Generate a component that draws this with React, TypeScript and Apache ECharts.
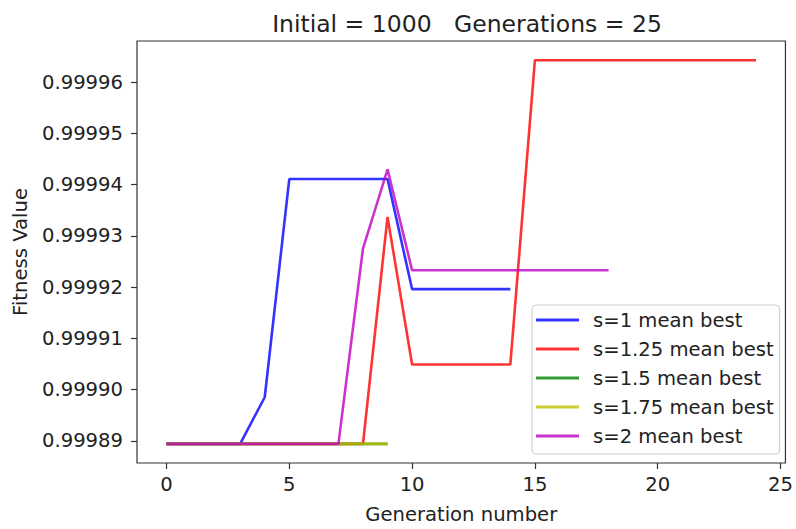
import React, { useEffect, useRef } from "react";
import * as echarts from "echarts";

const generations = [0, 1, 2, 3, 4, 5, 6, 7, 8, 9, 10, 11, 12, 13, 14, 15, 16, 17, 18, 19, 20, 21, 22, 23, 24];
const xTicks = [0, 5, 10, 15, 20, 25];
const yTicks = [0.99989, 0.9999, 0.99991, 0.99992, 0.99993, 0.99994, 0.99995, 0.99996];

const s1 = [0.9998894, 0.9998894, 0.9998894, 0.9998894, 0.9998985, 0.9999411, 0.9999411, 0.9999411, 0.9999411, 0.9999411, 0.9999196, 0.9999196, 0.9999196, 0.9999196, 0.9999196];
const s125 = [0.9998894, 0.9998894, 0.9998894, 0.9998894, 0.9998894, 0.9998894, 0.9998894, 0.9998894, 0.9998894, 0.9999337, 0.9999049, 0.9999049, 0.9999049, 0.9999049, 0.9999049, 0.9999643, 0.9999643, 0.9999643, 0.9999643, 0.9999643, 0.9999643, 0.9999643, 0.9999643, 0.9999643, 0.9999643];
const s15 = [0.9998894, 0.9998894, 0.9998894, 0.9998894, 0.9998894, 0.9998894, 0.9998894, 0.9998894, 0.9998894, 0.9998894];
const s175 = [0.9998894, 0.9998894, 0.9998894, 0.9998894, 0.9998894, 0.9998894, 0.9998894, 0.9998894, 0.9998894, 0.9998894];
const s2 = [0.9998894, 0.9998894, 0.9998894, 0.9998894, 0.9998894, 0.9998894, 0.9998894, 0.9998894, 0.9999275, 0.999943, 0.9999233, 0.9999233, 0.9999233, 0.9999233, 0.9999233, 0.9999233, 0.9999233, 0.9999233, 0.9999233];

const seriesNames = ["s=1 mean best", "s=1.25 mean best", "s=1.5 mean best", "s=1.75 mean best", "s=2 mean best"];
const seriesColors = ["#0000ff", "#ff0000", "#008000", "#bfbf00", "#bf00bf"];
const seriesValues = [s1, s125, s15, s175, s2];

const FONT = "DejaVu Sans";
const FS = 19.6;

export default function App() {
  const ref = useRef<HTMLDivElement>(null);
  useEffect(() => {
    if (!ref.current) return;
    const chart = echarts.init(ref.current, null, { renderer: "svg" });
    chart.setOption({
      animation: false,
      backgroundColor: "#ffffff",
      title: {
        text: "Initial = 1000   Generations = 25",
        left: 462,
        top: 7,
        textAlign: "center",
        textStyle: { fontFamily: FONT, fontSize: 23.5, fontWeight: "normal", color: "#222" },
      },
      grid: {
        left: 137,
        right: 5,
        top: 41,
        bottom: 62,
        show: true,
        borderColor: "#333",
        borderWidth: 1.2,
        backgroundColor: "transparent",
      },
      legend: {
        orient: "vertical",
        left: 532,
        top: 305,
        width: 250,
        padding: [5, 6, 8, 4],
        itemGap: 9,
        itemWidth: 43,
        itemHeight: 3,
        icon: "rect",
        backgroundColor: "rgba(255,255,255,0.8)",
        borderColor: "#cccccc",
        borderWidth: 1,
        borderRadius: 4,
        data: seriesNames,
        textStyle: { fontFamily: FONT, fontSize: FS, color: "#222", lineHeight: 18, padding: [0, 0, 0, 9] },
      },
      xAxis: {
        type: "value",
        min: -1.2,
        max: 25.2,
        name: "Generation number",
        nameLocation: "middle",
        nameGap: 41,
        nameTextStyle: { fontFamily: FONT, fontSize: FS, color: "#222" },
        axisLine: { show: false, onZero: false },
        axisTick: { show: true, inside: false, length: 6, customValues: xTicks, lineStyle: { color: "#333", width: 1.2 } },
        axisLabel: { customValues: xTicks, fontFamily: FONT, fontSize: FS, color: "#222", margin: 11 },
        splitLine: { show: false },
      },
      yAxis: {
        type: "value",
        min: 0.99988566,
        max: 0.99996805,
        name: "Fitness Value",
        nameLocation: "middle",
        nameRotate: 90,
        nameGap: 107,
        nameTextStyle: { fontFamily: FONT, fontSize: FS, color: "#222" },
        axisLine: { show: false, onZero: false },
        axisTick: { show: true, inside: false, length: 6, customValues: yTicks, lineStyle: { color: "#333", width: 1.2 } },
        axisLabel: {
          customValues: yTicks,
          fontFamily: FONT,
          fontSize: FS,
          color: "#222",
          margin: 14,
          formatter: (v: number) => v.toFixed(5),
        },
        splitLine: { show: false },
      },
      series: seriesNames.map((name, i) => ({
        name,
        type: "line",
        symbol: "none",
        data: seriesValues[i].map((v, j) => [generations[j], v]),
        lineStyle: { color: seriesColors[i], width: 2.6, opacity: 0.8 },
        itemStyle: { color: seriesColors[i], opacity: 0.8 },
        z: 2 + i,
      })),
    });
    return () => chart.dispose();
  }, []);
  return <div ref={ref} style={{ position: "fixed", left: 0, top: 0, width: 796, height: 529 }} />;
}
